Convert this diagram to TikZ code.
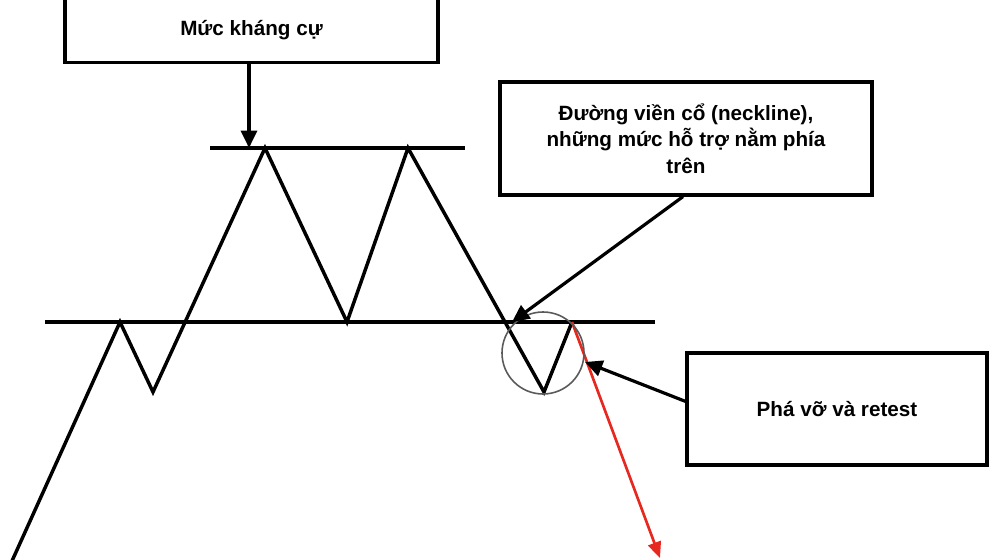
\documentclass[tikz,border=0pt]{standalone}
\usepackage{fontspec}
\setmainfont{Liberation Sans}
\usetikzlibrary{arrows.meta}
\begin{document}
\begin{tikzpicture}[x=0.75pt,y=-0.75pt,
  labelbox/.style={draw=black,line width=2.4pt,fill=white,inner sep=0pt,align=center,
    font=\fontsize{15.5}{20}\selectfont\bfseries},
  price/.style={line width=2.6pt,line join=miter,line cap=butt},
  level/.style={line width=2.6pt},
  pointer/.style={line width=2.4pt,-{Triangle[length=13pt,width=12pt]}},
  breakarrow/.style={line width=2pt,draw={rgb,255:red,230;green,40;blue,30},
    -{Triangle[length=12pt,width=10pt]}}]
\useasboundingbox (0,0) rectangle (996,560);
% labels
\node[labelbox,minimum width=279.75pt,minimum height=47.5pt] (top) at (251.5,30.5) {Mức kháng cự};
\node[labelbox,minimum width=279pt,minimum height=84.75pt] (nb) at (686,138.5)
  {Đường viền cổ (neckline),\\những mức hỗ trợ nằm phía\\trên};
\node[labelbox,minimum width=225pt,minimum height=84pt] (rb) at (837,409) {Phá vỡ và retest};
% levels
\coordinate (resL) at (210,148);
\coordinate (resR) at (465,148);
\coordinate (neckL) at (45,322);
\coordinate (neckR) at (655,322);
\draw[level] (resL) -- (resR);
\draw[level] (neckL) -- (neckR);
% price path
\coordinate (p0) at (12,561);
\coordinate (p1) at (120,322);
\coordinate (p2) at (153,392);
\coordinate (p3) at (265,148);
\coordinate (p4) at (347,322);
\coordinate (p5) at (408,148);
\coordinate (p6) at (544,392);
\coordinate (p7) at (572,322);
\coordinate (p8) at (660,558);
\draw[price] (p0) -- (p1) -- (p2) -- (p3) -- (p4) -- (p5) -- (p6) -- (p7);
\draw[breakarrow] (p7) -- (p8);
% retest circle
\node[draw={rgb,255:red,90;green,90;blue,90},line width=1.2pt,circle,minimum size=61.5pt,inner sep=0pt] (ring) at (543,353) {};
% pointers
\coordinate (resTip) at (249,148);
\coordinate (neckTip) at (512,322);
\coordinate (retTip) at (585,362);
\coordinate (retStart) at (687,402);
\draw[pointer] (top.south -| resTip) -- (resTip);
\draw[pointer] ([xshift=-2.25pt]nb.south) -- (neckTip);
\draw[pointer] (retStart) -- (retTip);
\end{tikzpicture}
\end{document}
